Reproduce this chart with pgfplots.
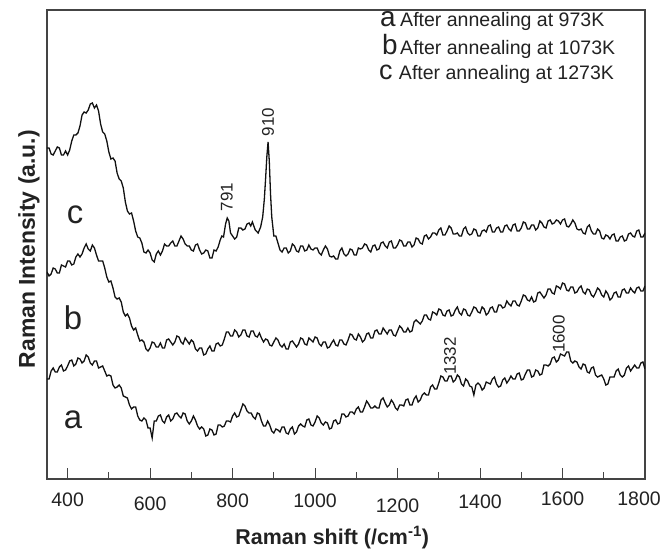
\documentclass[border=0pt]{standalone}
\usepackage{fontspec}
\setmainfont{Liberation Sans}
\usepackage{pgfplots}
\usepackage{pgfplotstable}
\pgfplotsset{compat=1.18}
\definecolor{axisgray}{HTML}{444444}
\definecolor{textgray}{HTML}{222222}
\definecolor{trace}{HTML}{111111}

% spectrum c, after annealing at 1273K
\pgfplotstableread{
x y
350 331
355 331
360 325
365 324
370 328
375 332
380 331
385 324
390 324
395 328
400 324
405 329
410 338
415 344
420 344
425 346
430 353
435 364
440 367
445 366
450 369
455 375
460 376
465 371
470 374
475 368
480 355
485 347
490 345
495 338
500 327
505 320
510 321
515 318
520 306
525 300
530 298
535 291
540 277
545 268
550 265
555 266
560 258
565 248
570 242
575 241
580 236
585 227
590 226
595 229
600 226
605 219
610 217
615 225
620 228
625 224
630 228
635 235
640 233
645 233
650 236
655 238
660 233
665 233
670 238
675 243
680 240
685 235
690 233
695 233
700 229
705 228
710 234
715 235
720 229
725 225
730 226
735 229
740 228
745 221
750 221
755 229
760 228
765 232
770 239
774 243
778 242
783 255
787 261
791 258
795 246
800 243
805 240
810 242
815 251
820 251
825 249
830 250
835 255
840 256
844 253
848 257
855 249
862 246
868 252
873 262
877 280
880 300
883 322
886 337
889 318
892 285
895 262
900 243
905 243
910 236
915 229
920 227
925 231
930 231
935 226
940 228
945 235
950 233
955 228
960 227
965 233
970 233
975 228
980 229
985 234
990 230
995 229
1000 231
1005 231
1010 226
1015 224
1020 229
1025 233
1030 230
1035 223
1040 222
1045 223
1050 220
1055 220
1060 228
1065 231
1070 225
1075 223
1080 225
1085 230
1090 229
1095 224
1100 224
1105 231
1110 230
1115 231
1120 235
1125 234
1130 229
1135 227
1140 233
1145 234
1150 229
1155 230
1160 236
1165 237
1170 233
1175 231
1180 237
1185 238
1190 231
1195 231
1200 234
1205 239
1210 238
1215 233
1220 233
1225 237
1230 237
1235 232
1240 234
1245 241
1250 240
1255 236
1260 235
1265 243
1270 244
1275 240
1280 242
1285 246
1290 246
1295 244
1300 249
1305 251
1310 244
1315 244
1320 248
1325 253
1330 251
1335 245
1340 245
1345 246
1350 243
1355 243
1360 250
1365 252
1370 246
1375 244
1380 245
1385 250
1390 249
1395 243
1400 243
1405 248
1410 249
1415 247
1420 253
1425 254
1430 247
1435 247
1440 251
1445 252
1450 247
1455 247
1460 253
1465 254
1470 250
1475 248
1480 254
1485 255
1490 248
1495 248
1500 251
1505 257
1510 256
1515 250
1520 250
1525 254
1530 254
1535 249
1540 251
1545 258
1550 256
1555 252
1560 251
1565 258
1570 259
1575 255
1580 256
1585 259
1590 258
1595 255
1600 259
1605 260
1610 253
1615 252
1620 255
1625 259
1630 256
1635 250
1640 249
1645 250
1650 246
1655 245
1660 252
1665 254
1670 248
1675 245
1680 245
1685 250
1690 248
1695 241
1700 240
1705 244
1710 243
1715 240
1720 244
1725 245
1730 238
1735 238
1740 242
1745 243
1750 238
1755 239
1760 245
1765 246
1770 243
1775 242
1780 248
1785 249
1790 242
1795 242
1800 246
}\specc

% spectrum b, after annealing at 1073K
\pgfplotstableread{
x y
350 207
355 203
360 205
365 211
370 210
375 206
380 206
385 214
390 213
395 212
400 218
405 218
410 214
415 215
420 222
425 225
430 222
435 225
440 231
445 235
450 230
455 228
460 234
465 231
470 224
475 218
480 218
485 218
490 211
495 202
500 197
505 198
510 191
515 182
520 180
525 181
530 177
535 167
540 163
545 165
550 161
555 153
560 149
565 151
570 144
575 138
580 139
585 137
590 130
595 128
600 131
605 137
610 136
615 132
620 132
625 136
630 131
635 131
640 139
645 140
650 137
655 134
660 137
665 143
670 142
675 137
680 135
685 141
690 138
695 135
700 139
705 137
710 130
715 128
720 131
725 131
730 124
735 125
740 130
745 133
750 128
755 128
760 135
765 136
770 133
775 134
780 140
785 147
790 147
795 143
800 143
805 149
810 147
815 142
820 144
825 149
830 149
835 143
840 142
845 148
850 148
855 143
860 142
865 146
870 141
875 137
880 140
885 139
890 134
895 133
900 137
905 141
910 139
915 134
920 132
925 135
930 130
935 130
940 137
945 138
950 135
955 132
960 135
965 141
970 140
975 135
980 134
985 141
990 139
995 137
1000 142
1005 141
1010 135
1015 133
1020 137
1025 137
1030 131
1035 132
1040 136
1045 139
1050 134
1055 133
1060 139
1065 139
1070 135
1075 134
1080 139
1085 145
1090 144
1095 140
1100 139
1105 145
1110 142
1115 137
1120 139
1125 145
1130 146
1135 141
1140 141
1145 148
1150 149
1155 145
1160 145
1165 151
1170 148
1175 145
1180 149
1185 149
1190 144
1195 143
1200 148
1205 153
1210 151
1215 147
1220 147
1225 151
1230 147
1235 148
1240 157
1245 159
1250 157
1255 155
1260 158
1265 164
1270 164
1275 160
1280 159
1285 167
1290 166
1295 164
1300 170
1305 169
1310 164
1315 163
1320 168
1325 169
1330 163
1335 164
1340 169
1345 172
1350 166
1355 164
1360 170
1365 169
1370 164
1375 163
1380 167
1385 172
1390 171
1395 167
1400 166
1405 172
1410 170
1415 164
1420 166
1425 171
1430 172
1435 167
1440 167
1445 174
1450 174
1455 171
1460 172
1465 178
1470 175
1475 173
1480 178
1485 178
1490 174
1495 173
1500 178
1505 184
1510 183
1515 179
1520 178
1525 182
1530 177
1535 178
1540 186
1545 187
1550 184
1555 181
1560 184
1565 190
1570 190
1575 186
1580 185
1585 193
1590 192
1595 190
1600 196
1605 195
1610 189
1615 188
1620 192
1625 192
1630 186
1635 187
1640 191
1645 193
1650 187
1655 185
1660 190
1665 189
1670 184
1675 182
1680 186
1685 191
1690 189
1695 184
1700 182
1705 188
1710 185
1715 179
1720 181
1725 186
1730 187
1735 182
1740 182
1745 189
1750 190
1755 186
1760 186
1765 191
1770 188
1775 186
1780 191
1785 192
1790 188
1795 188
1800 193
}\specb

% spectrum a, after annealing at 973K
\pgfplotstableread{
x y
350 100
355 100
360 108
365 111
370 107
375 107
380 112
385 114
390 108
395 109
400 113
405 118
410 119
415 113
420 115
425 121
430 120
435 116
440 118
445 124
450 122
455 116
460 114
465 118
470 118
475 111
480 112
485 113
490 108
495 103
500 104
505 103
510 94
515 91
520 92
525 94
530 91
535 83
540 82
545 81
550 74
555 70
560 72
565 72
570 63
575 59
580 58
585 61
590 59
595 51
600 51
605 41
610 58
615 58
620 63
625 64
630 58
635 56
640 62
645 64
650 58
655 60
660 65
665 66
670 63
675 61
680 66
685 65
690 58
695 55
700 58
705 63
710 59
715 53
720 50
725 52
730 50
735 43
740 44
745 50
750 49
755 44
760 45
765 54
770 54
775 52
780 53
785 58
790 58
795 57
800 63
805 66
810 62
815 63
820 69
825 75
830 73
835 68
840 66
845 66
850 62
855 60
860 66
865 65
870 58
875 53
880 53
885 58
890 54
895 48
900 46
905 50
910 49
915 47
920 52
925 52
930 46
935 45
940 50
945 52
950 45
955 47
960 53
965 55
970 53
975 52
980 59
985 60
990 54
995 53
1000 57
1005 63
1010 61
1015 56
1020 54
1025 57
1030 56
1035 50
1040 51
1045 58
1050 59
1055 55
1060 56
1065 65
1070 65
1075 62
1080 63
1085 67
1090 67
1095 65
1100 70
1105 72
1110 67
1115 67
1120 72
1125 78
1130 75
1135 71
1140 71
1145 73
1150 71
1155 71
1160 79
1165 81
1170 76
1175 72
1180 74
1185 79
1190 76
1195 71
1200 69
1205 74
1210 74
1215 73
1220 79
1225 80
1230 74
1235 74
1240 80
1245 83
1250 77
1255 79
1260 84
1265 86
1270 84
1275 84
1280 92
1285 94
1290 90
1295 90
1300 96
1305 103
1310 102
1315 98
1320 98
1325 103
1330 103
1335 97
1340 99
1345 104
1350 102
1355 95
1360 93
1365 100
1370 98
1375 93
1380 92
1385 84
1390 94
1395 96
1400 94
1405 89
1410 91
1415 97
1420 96
1425 95
1430 100
1435 102
1440 95
1445 92
1450 93
1455 99
1460 101
1465 96
1470 99
1475 103
1480 100
1485 100
1490 105
1495 106
1500 99
1505 100
1510 105
1515 109
1520 109
1525 102
1530 103
1535 109
1540 108
1545 104
1550 105
1555 114
1560 114
1565 113
1570 115
1575 121
1580 122
1585 117
1590 119
1595 125
1600 124
1605 123
1610 127
1615 127
1620 118
1625 116
1630 118
1635 117
1640 112
1645 110
1650 115
1655 114
1660 107
1665 106
1670 111
1675 112
1680 104
1685 102
1690 103
1695 104
1700 100
1705 94
1710 95
1715 102
1720 102
1725 102
1730 108
1735 110
1740 104
1745 102
1750 104
1755 111
1760 113
1765 108
1770 111
1775 114
1780 111
1785 111
1790 116
1795 117
1800 110
}\speca

\begin{document}
\begin{tikzpicture}
\begin{axis}[
    name=ax, at={(0,0)}, anchor=south west,
    scale only axis, width=598bp, height=469bp,
    xmin=350, xmax=1800, ymin=0, ymax=469,
    xtick={400,600,...,1800},
    xticklabels={400,\raisebox{-4bp}{600},\raisebox{-1bp}{800},\raisebox{-1bp}{1000},\raisebox{-6bp}{1200},\raisebox{-2bp}{1400},\raisebox{1bp}{1600},\raisebox{1bp}{\hspace*{-12bp}1800}},
    minor xtick={500,700,...,1700},
    ytick=\empty,
    xtick pos=left,
    tick align=inside,
    major tick length=11bp, minor tick length=7bp,
    tick style={line width=1bp, color=axisgray},
    axis line style={line width=1.2bp, color=axisgray},
    xticklabel style={anchor=base, yshift=-27bp, font=\fontsize{19.6}{22}\selectfont, color=textgray},
    xlabel={Raman shift (/cm\textsuperscript{-1})},
    ylabel={Raman Intensity (a.u.)},
    every axis x label/.style={at={(rel axis cs:0.477,0)}, yshift=-65bp, anchor=base, font=\bfseries\fontsize{21.5}{24}\selectfont, color=textgray},
    every axis y label/.style={at={(rel axis cs:0,0.49)}, xshift=-12bp, rotate=90, anchor=base, font=\bfseries\fontsize{23}{26}\selectfont, color=textgray},
    ]
    \addplot[trace, line width=1.3bp] table {\speca};
    \addplot[trace, line width=1.3bp] table {\specb};
    \addplot[trace, line width=1.3bp] table {\specc};

    % curve letters
    \node[font=\fontsize{33}{33}\selectfont, textgray] at (axis cs:418,264) {c};
    \node[font=\fontsize{33}{33}\selectfont, textgray] at (axis cs:413,161) {b};
    \node[font=\fontsize{33}{33}\selectfont, textgray] at (axis cs:413,59) {a};

    % peak positions
    \node[rotate=90, font=\fontsize{17}{17}\selectfont, textgray] at (axis cs:786,282) {791};
    \node[rotate=90, font=\fontsize{17}{17}\selectfont, textgray] at (axis cs:886,357) {910};
    \node[rotate=90, font=\fontsize{17}{17}\selectfont, textgray] at (axis cs:1327,123) {1332};
    \node[rotate=90, font=\fontsize{17}{17}\selectfont, textgray] at (axis cs:1591,145) {1600};

    % sample key
    \node[anchor=base west, inner sep=0pt, font=\fontsize{28}{28}\selectfont, textgray] at (axis cs:1157,452) {a};
    \node[anchor=base west, inner sep=0pt, font=\fontsize{19.6}{22}\selectfont, textgray] at (axis cs:1206,452) {After annealing at 973K};
    \node[anchor=base west, inner sep=0pt, font=\fontsize{28}{28}\selectfont, textgray] at (axis cs:1162,424) {b};
    \node[anchor=base west, inner sep=0pt, font=\fontsize{19.6}{22}\selectfont, textgray] at (axis cs:1206,424) {After annealing at 1073K};
    \node[anchor=base west, inner sep=0pt, font=\fontsize{27}{27}\selectfont, textgray] at (axis cs:1155,399) {c};
    \node[anchor=base west, inner sep=0pt, font=\fontsize{19.6}{22}\selectfont, textgray] at (axis cs:1203,399) {After annealing at 1273K};
\end{axis}
\pgfresetboundingbox
\path (-47bp,-70bp) rectangle (617bp,479bp);
\end{tikzpicture}
\end{document}
